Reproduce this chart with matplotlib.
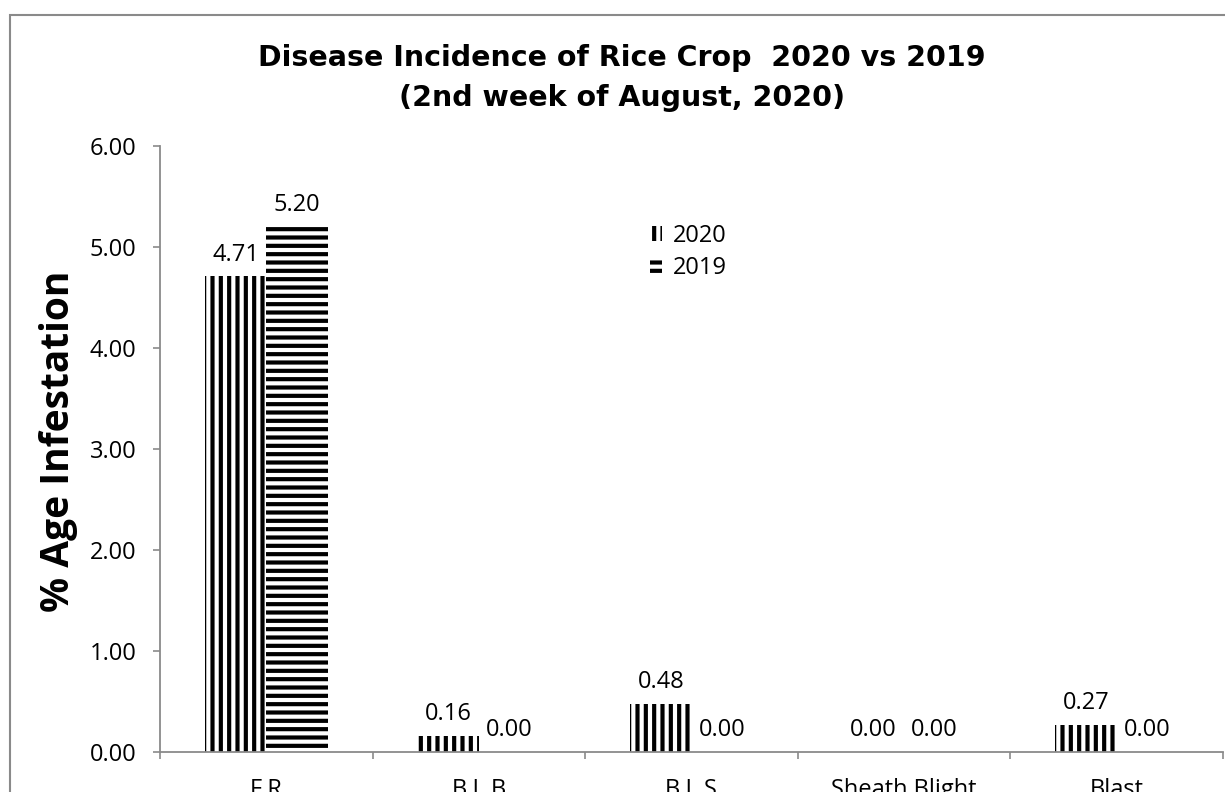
import numpy as np
import matplotlib.pyplot as plt
from matplotlib.patches import Rectangle

# data
diseases = ['F.R', 'B.L.B', 'B.L.S', 'Sheath Blight', 'Blast']
inc_2020 = [4.71, 0.16, 0.48, 0.00, 0.27]
inc_2019 = [5.20, 0.00, 0.00, 0.00, 0.00]
years = ['2020', '2019']
y_ticks = [0, 1, 2, 3, 4, 5, 6]

plt.rcParams['font.family'] = ['Open Sans', 'DejaVu Sans']
plt.rcParams['hatch.linewidth'] = 3.0

grey = '#8a8a8a'

fig = plt.figure(figsize=(12.25, 7.92), dpi=100)
ax = fig.add_axes([160 / 1225, 40 / 792, 1063 / 1225, 606 / 792])

x = np.arange(len(diseases))
w = 0.288
b20 = ax.bar(x - w / 2, inc_2020, w, color='white', edgecolor='black',
             linewidth=0, hatch='||', label=years[0])
b19 = ax.bar(x + w / 2, inc_2019, w, color='white', edgecolor='black',
             linewidth=0, hatch='--', label=years[1])

for bars in (b20, b19):
    for r in bars:
        ax.annotate(f'{r.get_height():.2f}',
                    (r.get_x() + r.get_width() / 2, r.get_height()),
                    xytext=(0, 7), textcoords='offset points',
                    ha='center', va='bottom', fontsize=17)

ax.set_xlim(-0.5, len(diseases) - 0.5)
ax.set_ylim(0, 6)
ax.set_yticks(y_ticks)
ax.set_yticklabels([f'{v:.2f}' for v in y_ticks])
ax.set_xticks(x)
ax.set_xticklabels(diseases)
ax.set_xticks(np.arange(-0.5, len(diseases)), minor=True)

ax.tick_params(axis='y', length=5, width=1.2, color=grey, pad=12, labelsize=17)
ax.tick_params(axis='x', which='major', length=0, pad=19, labelsize=17)
ax.tick_params(axis='x', which='minor', length=5, width=1.2, color=grey)

for s in ['top', 'right']:
    ax.spines[s].set_visible(False)
for s in ['left', 'bottom']:
    ax.spines[s].set_color(grey)
    ax.spines[s].set_linewidth(1.3)

ax.legend(loc='upper left', bbox_to_anchor=(0.461, 0.872), frameon=False,
          fontsize=17, handlelength=0.5, handleheight=0.6,
          handletextpad=0.45, labelspacing=0.35, borderpad=0, borderaxespad=0)

fig.text(0.508, 1 - 58 / 792, 'Disease Incidence of Rice Crop  2020 vs 2019',
         ha='center', va='center', fontsize=20.5, fontweight='bold',
         family='DejaVu Sans')
fig.text(0.508, 1 - 98 / 792, '(2nd week of August, 2020)',
         ha='center', va='center', fontsize=20.5, fontweight='bold',
         family='DejaVu Sans')

fig.text(59 / 1225, 1 - 441 / 792, '% Age Infestation', rotation=90,
         ha='center', va='center', fontsize=28, fontweight='bold')

# outer chart frame, runs off the right and bottom edges
fig.patches.append(Rectangle((10 / 1225, -0.05), 1.0, 0.05 + 777 / 792,
                             transform=fig.transFigure, fill=False,
                             edgecolor=grey, linewidth=1.5))

fig.savefig('out.png', dpi=100)
